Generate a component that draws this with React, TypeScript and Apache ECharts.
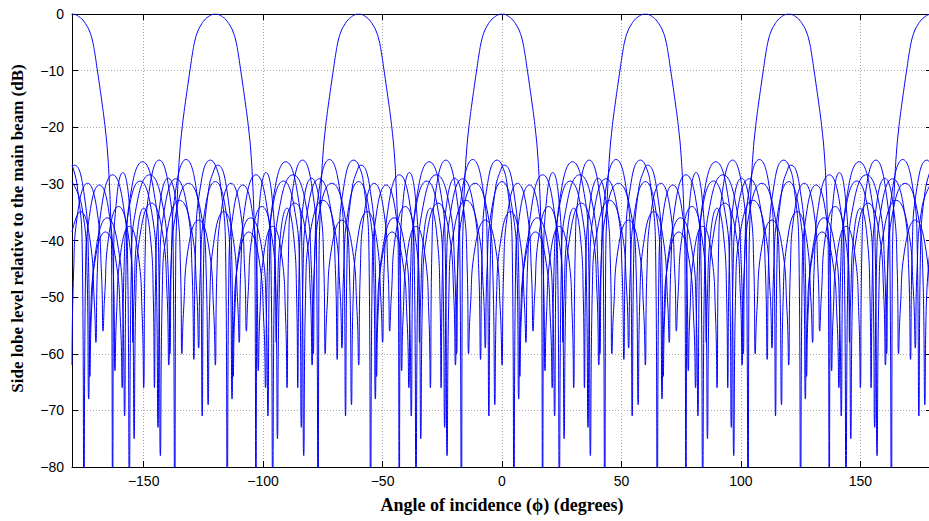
import React, { useEffect, useRef } from "react";
import * as echarts from "echarts";

// Beam steering directions (degrees)
const beamCenters: number[] = [0, 60, 120, 180, -120, -60];

// Beam shape: [angle relative to beam (deg), level (dB)]
const backLobeNeg: number[][] = [
  [-180, -26.95], [-179, -26.7], [-175.1, -31.3], [-173.15, -42.7],
];

const leftSidelobes: number[][] = [
  [-172.5, -64],
  [-171.78, -52], [-169.6, -40.6], [-165.25, -36], [-160.9, -40.6], [-158.73, -52],
  [-158, -71],
  [-157.25, -42.1], [-155, -30.7], [-150.5, -26.1], [-146, -30.7], [-143.75, -42.1],
  [-143, -78],
  [-142.2, -48.9], [-139.8, -37.5], [-135, -32.9], [-130.2, -37.5], [-127.8, -48.9],
  [-127, -59],
  [-126.3, -45.6], [-124.2, -34.2], [-120, -29.6], [-115.8, -34.2], [-113.7, -45.6],
  [-113, -68],
  [-112.3, -54.5], [-110.2, -43.1], [-106, -38.5], [-101.8, -43.1], [-99.7, -54.5],
  [-99, -66],
  [-98.25, -45.5], [-96, -34.1], [-91.5, -29.5], [-87, -34.1], [-84.75, -45.5],
  [-84, -73],
  [-83.25, -45.1], [-81, -33.7], [-76.5, -29.1], [-72, -33.7], [-69.75, -45.1],
  [-69, -61],
  [-68.3, -41.8], [-66.2, -30.4], [-62, -25.8], [-60, -26.7], [-57.8, -30.4], [-55.7, -41.8],
  [-55, -85],
  [-54.35, -46.2], [-52.4, -34.8], [-48.5, -30.2], [-44.6, -34.8], [-42.65, -46.2],
  [-42, -63],
  [-41.4, -53.5], [-39.6, -42.1], [-36, -37.5], [-32.4, -42.1], [-30.6, -53.5],
  [-30, -66],
  [-29.35, -41.8], [-27.4, -30.4], [-23.5, -25.8], [-19.6, -30.4], [-17.65, -41.8],
  [-17, -95],
];

const mainLobe: number[][] = [
  [-16.6, -44], [-16.2, -36], [-15.6, -29.5], [-14.8, -24], [-14, -20.5], [-13.3, -18],
  [-12.5, -15.5], [-11.5, -12.5], [-10.5, -9.6], [-9.5, -6.8], [-8.5, -4.6], [-7.3, -3],
  [-6, -1.95], [-4.5, -1.05], [-3, -0.5], [-1.5, -0.12], [0, 0], [1.5, -0.12], [3, -0.5],
  [4.5, -1.05], [6, -1.95], [7.3, -3], [8.5, -4.6], [9.5, -6.8], [10.5, -9.6], [11.5, -12.5],
  [12.5, -15.5], [13.3, -18], [14, -20.5], [14.8, -24], [15.6, -29.5], [16.2, -36], [16.6, -44],
];

const rightSidelobes: number[][] = [
  [17, -95],
  [17.43, -44], [18.7, -32.6], [21.25, -28], [23.8, -32.6], [25.08, -44],
  [25.5, -58],
  [25.95, -50.3], [27.3, -38.9], [30, -34.3], [32.7, -38.9], [34.05, -50.3],
  [34.5, -66],
  [35.08, -45], [36.8, -33.6], [40.25, -29], [43.7, -33.6], [45.43, -45],
  [46, -60],
  [46.7, -52.4], [48.8, -41], [53, -36.4], [57.2, -41], [59.3, -52.4],
  [60, -62],
  [60.65, -45.9], [62.6, -34.5], [66.5, -29.9], [70.4, -34.5], [72.35, -45.9],
  [73, -56],
  [73.65, -50], [75.6, -38.6], [79.5, -34], [83.4, -38.6], [85.35, -50],
  [86, -75],
  [86.73, -49.4], [88.9, -38], [93.25, -33.4], [97.6, -38], [99.78, -49.4],
  [100.5, -62],
  [101.33, -45.9], [103.8, -34.5], [108.75, -29.9], [113.7, -34.5], [116.18, -45.9],
  [117, -69],
  [117.65, -50.9], [120, -38.5], [123.5, -34.9], [127.4, -39.5], [129.35, -50.9],
  [130, -58],
  [130.7, -44.4], [132.8, -33], [137, -28.4], [141.2, -33], [143.3, -44.4],
  [144, -82],
  [144.85, -44.4], [147.4, -33], [152.5, -28.4], [157.6, -33], [160.15, -44.4],
  [161, -60],
  [161.68, -41.7], [163.7, -30.3], [167.75, -25.7], [171.8, -30.3], [173.83, -41.7],
  [174.5, -71],
];

const backLobePos: number[][] = [
  [175.15, -42.7], [177.1, -31.3], [180, -26.95],
];

const beamShape: number[][] = [
  ...backLobeNeg,
  ...leftSidelobes,
  ...mainLobe,
  ...rightSidelobes,
  ...backLobePos,
];

function steer(shape: number[][], center: number): number[][] {
  const pts = new Map<string, number[]>();
  for (const [t, v] of shape) {
    let x = t + center;
    if (x > 180) x -= 360;
    if (x < -180) x += 360;
    const xs = Math.abs(x) === 180 ? [-180, 180] : [x];
    for (const p of xs) pts.set(p.toFixed(3), [p, v]);
  }
  return Array.from(pts.values()).sort((a, b) => a[0] - b[0]);
}

const minus = (v: number) => String(v).replace("-", "\u2212");

export default function App() {
  const ref = useRef<HTMLDivElement>(null);

  useEffect(() => {
    if (!ref.current) return;
    const chart = echarts.init(ref.current, undefined, { renderer: "svg" });
    const tickFont = {
      fontFamily: "Liberation Sans, Arial, sans-serif",
      fontSize: 14,
      color: "#000",
    };
    const titleFont = {
      fontFamily: "Liberation Serif, 'Times New Roman', serif",
      fontWeight: "bold" as const,
      fontSize: 17,
      color: "#000",
    };
    const axisLine = { show: true, onZero: false, lineStyle: { color: "#000", width: 1 } };
    const axisTick = { show: true, inside: true, length: 6, lineStyle: { color: "#000", width: 1 } };
    const splitLine = { show: true, lineStyle: { color: "#a8a8a8", width: 1, type: [1, 2] as number[] } };

    chart.setOption({
      animation: false,
      grid: { left: 72, top: 14, width: 860, height: 453, show: false },
      xAxis: [
        {
          type: "value",
          position: "bottom",
          min: -180,
          max: 180,
          splitNumber: 7,
          axisLine,
          axisTick,
          splitLine,
          axisLabel: { ...tickFont, margin: 7, showMinLabel: false, showMaxLabel: false, formatter: minus },
          name: "Angle of incidence (\u03d5) (degrees)",
          nameLocation: "middle",
          nameGap: 29,
          nameTextStyle: { ...titleFont, fontSize: 18 },
        },
        {
          type: "value",
          position: "top",
          min: -180,
          max: 180,
          splitNumber: 7,
          axisLine,
          axisTick,
          splitLine: { show: false },
          axisLabel: { show: false },
        },
      ],
      yAxis: [
        {
          type: "value",
          position: "left",
          min: -80,
          max: 0,
          interval: 10,
          axisLine,
          axisTick,
          splitLine,
          axisLabel: { ...tickFont, margin: 8, formatter: minus },
          name: "Side lobe level relative to the main beam (dB)",
          nameLocation: "middle",
          nameRotate: 90,
          nameGap: 46,
          nameTextStyle: { ...titleFont, padding: [0, 0, 0, 24] },
        },
        {
          type: "value",
          position: "right",
          min: -80,
          max: 0,
          interval: 10,
          axisLine,
          axisTick,
          splitLine: { show: false },
          axisLabel: { show: false },
        },
      ],
      series: beamCenters.map((c) => ({
        type: "line",
        name: `Beam ${c}`,
        xAxisIndex: 0,
        yAxisIndex: 0,
        data: steer(beamShape, c),
        showSymbol: false,
        symbol: "none",
        smooth: 0.5,
        clip: true,
        silent: true,
        lineStyle: { color: "#0000ff", width: 1 },
      })),
    });
    return () => chart.dispose();
  }, []);

  return (
    <div style={{ position: "absolute", left: 0, top: 0, width: 929, height: 521, overflow: "hidden", background: "#fff" }}>
      <div ref={ref} style={{ width: 932, height: 521 }} />
    </div>
  );
}
